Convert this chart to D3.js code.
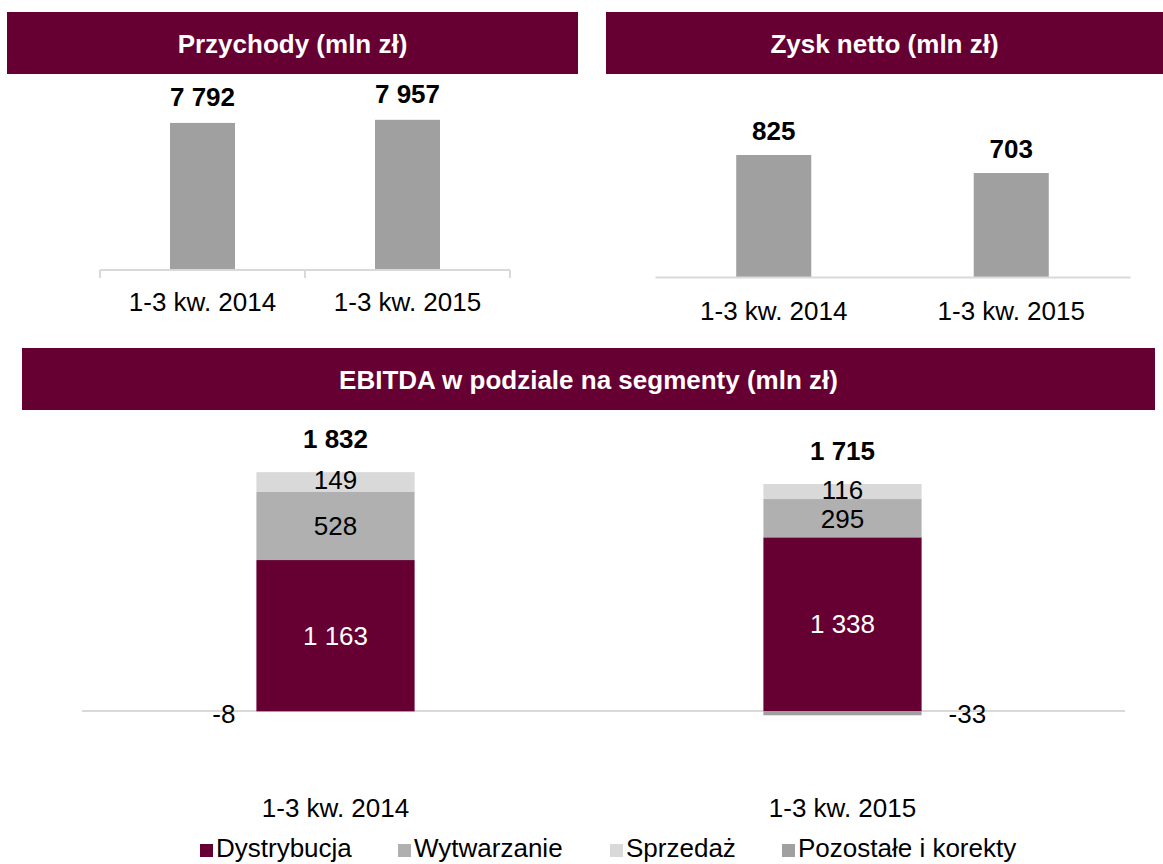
<!DOCTYPE html>
<html>
<head>
<meta charset="utf-8">
<script src="https://cdn.jsdelivr.net/npm/d3@7"></script>
<style>
  html, body { margin: 0; padding: 0; background: #fff; }
  svg text { font-family: "Liberation Sans", Arial, sans-serif; }
</style>
</head>
<body>
<svg id="chart" width="1163" height="864"></svg>
<script>
"use strict";
// data
var periods = ["1-3 kw. 2014", "1-3 kw. 2015"];
var revenue = [7792, 7957];
var netProfit = [825, 703];
var segments = ["Dystrybucja", "Wytwarzanie", "Sprzedaż", "Pozostałe i korekty"];
var distribution = [1163, 1338];
var generation = [528, 295];
var sales = [149, 116];
var otherAdj = [-8, -33];
var ebitdaTotal = [1832, 1715];

var maroon = "#660033";
var segColors = [maroon, "#b0b0b0", "#d9d9d9", "#a0a0a0"];
var FS = 26;
var fmt = function (v) {
    return d3.format(",")(v).replace(/,/g, " ").replace("\u2212", "-");
};

var svg = d3.select("#chart");

function header(x, y, w, h, title) {
    svg.append("rect").attr("x", x).attr("y", y).attr("width", w).attr("height", h)
        .attr("fill", maroon);
    svg.append("text").attr("x", x + w / 2).attr("y", y + h / 2 + 10)
        .attr("text-anchor", "middle").attr("fill", "#fff")
        .attr("font-size", FS).attr("font-weight", "bold").text(title);
}

function styleAxisText(ax) {
    ax.selectAll("text").attr("font-size", FS).attr("fill", "#000")
        .attr("font-family", "Liberation Sans, Arial, sans-serif");
}

// ---- top left: revenue
header(7, 12, 571, 62, "Przychody (mln zł)");
var x1 = d3.scaleBand().domain(periods).range([100, 510]).paddingInner(0.683).paddingOuter(0.683 / 2);
var y1 = d3.scaleLinear().domain([0, 8000]).range([270, 119]);
var g1 = svg.append("g");
g1.selectAll("rect").data(revenue).enter().append("rect")
    .attr("x", function (d, i) { return x1(periods[i]); })
    .attr("y", function (d) { return y1(d); })
    .attr("width", x1.bandwidth())
    .attr("height", function (d) { return y1(0) - y1(d); })
    .attr("fill", "#a0a0a0");
g1.selectAll("text.val").data(revenue).enter().append("text").attr("class", "val")
    .attr("x", function (d, i) { return x1(periods[i]) + x1.bandwidth() / 2; })
    .attr("y", function (d) { return y1(d) - 17; })
    .attr("text-anchor", "middle").attr("font-size", FS).attr("font-weight", "bold")
    .text(function (d) { return fmt(d); });
var ax1 = g1.append("g").attr("transform", "translate(0,270)")
    .call(d3.axisBottom(x1).tickSize(0).tickPadding(23));
ax1.select(".domain").attr("stroke", "#d9d9d9").attr("stroke-width", 2).attr("d", "M100,0H510");
styleAxisText(ax1);
[100, 305, 510].forEach(function (tx) {
    ax1.append("line").attr("x1", tx).attr("x2", tx).attr("y1", 0).attr("y2", 8)
        .attr("stroke", "#d9d9d9").attr("stroke-width", 2);
});

// ---- top right: net profit
header(606, 12, 557, 62, "Zysk netto (mln zł)");
var x2 = d3.scaleBand().domain(periods).range([655, 1130]).paddingInner(0.684).paddingOuter(0.684 / 2);
var y2 = d3.scaleLinear().domain([0, 1000]).range([277, 129.1]);
var g2 = svg.append("g");
g2.selectAll("rect").data(netProfit).enter().append("rect")
    .attr("x", function (d, i) { return x2(periods[i]); })
    .attr("y", function (d) { return y2(d); })
    .attr("width", x2.bandwidth())
    .attr("height", function (d) { return y2(0) - y2(d); })
    .attr("fill", "#a0a0a0");
g2.selectAll("text.val").data(netProfit).enter().append("text").attr("class", "val")
    .attr("x", function (d, i) { return x2(periods[i]) + x2.bandwidth() / 2; })
    .attr("y", function (d) { return y2(d) - 15; })
    .attr("text-anchor", "middle").attr("font-size", FS).attr("font-weight", "bold")
    .text(function (d) { return fmt(d); });
var ax2 = g2.append("g").attr("transform", "translate(0,277)")
    .call(d3.axisBottom(x2).tickSize(0).tickPadding(25));
ax2.select(".domain").attr("stroke", "#d9d9d9").attr("stroke-width", 2);
styleAxisText(ax2);

// ---- bottom: EBITDA stacked
header(22, 348, 1133, 62, "EBITDA w podziale na segmenty (mln zł)");
var x3 = d3.scaleBand().domain(periods).range([82, 1096]).paddingInner(0.688).paddingOuter(0.688 / 2);
var y3 = d3.scaleLinear().domain([0, 2000]).range([711, 451.4]);
var rows = periods.map(function (p, i) {
    return { period: p, "Dystrybucja": distribution[i], "Wytwarzanie": generation[i],
             "Sprzedaż": sales[i], "Pozostałe i korekty": otherAdj[i] };
});
var stack = d3.stack().keys(segments).offset(d3.stackOffsetDiverging);
var series = stack(rows);
var g3 = svg.append("g");
g3.append("line").attr("x1", 82).attr("x2", 1125).attr("y1", y3(0)).attr("y2", y3(0))
    .attr("stroke", "#d9d9d9").attr("stroke-width", 2);
var layers = g3.selectAll("g.layer").data(series).enter().append("g").attr("class", "layer")
    .attr("fill", function (d, i) { return segColors[i]; });
layers.selectAll("rect").data(function (d) { return d; }).enter().append("rect")
    .attr("x", function (d) { return x3(d.data.period); })
    .attr("y", function (d) { return y3(Math.max(d[0], d[1])); })
    .attr("width", x3.bandwidth())
    .attr("height", function (d) { return Math.abs(y3(d[0]) - y3(d[1])); });
// segment labels
series.forEach(function (s, si) {
    s.forEach(function (d, i) {
        var cx = x3(d.data.period) + x3.bandwidth() / 2;
        var v = rows[i][s.key];
        var t = g3.append("text").attr("font-size", FS).text(fmt(v));
        if (v < 0) {
            // negative values sit beside the bar
            if (i === 0) {
                t.attr("x", x3(d.data.period) - 21).attr("text-anchor", "end");
            } else {
                t.attr("x", x3(d.data.period) + x3.bandwidth() + 27).attr("text-anchor", "start");
            }
            t.attr("y", y3(0) + 12).attr("fill", "#000");
        } else {
            // small top segments: nudge apart a little so labels don't collide
            var dy = si === 2 ? 7 : (si === 1 && v < 400 ? 10 : 9);
            t.attr("x", cx).attr("text-anchor", "middle")
                .attr("y", (y3(d[0]) + y3(d[1])) / 2 + dy)
                .attr("fill", si === 0 ? "#fff" : "#000");
        }
    });
});
// totals
g3.selectAll("text.total").data(ebitdaTotal).enter().append("text").attr("class", "total")
    .attr("x", function (d, i) { return x3(periods[i]) + x3.bandwidth() / 2; })
    .attr("y", function (d, i) { return y3(series[2][i][1]) - 24; })
    .attr("text-anchor", "middle").attr("font-size", FS).attr("font-weight", "bold")
    .text(function (d) { return fmt(d); });
// category labels
var ax3 = g3.append("g").attr("transform", "translate(0," + (y3(0)) + ")")
    .call(d3.axisBottom(x3).tickSize(0).tickPadding(88));
ax3.select(".domain").remove();
styleAxisText(ax3);

// legend
var legendX = [200, 398, 610, 782];
var leg = svg.append("g").selectAll("g").data(segments).enter().append("g")
    .attr("transform", function (d, i) { return "translate(" + legendX[i] + ",849)"; });
leg.append("rect").attr("x", 0).attr("y", -5).attr("width", 13).attr("height", 13)
    .attr("fill", function (d, i) { return segColors[i]; });
leg.append("text").attr("x", 16).attr("y", 8).attr("font-size", 26).text(function (d) { return d; });
</script>
</body>
</html>
